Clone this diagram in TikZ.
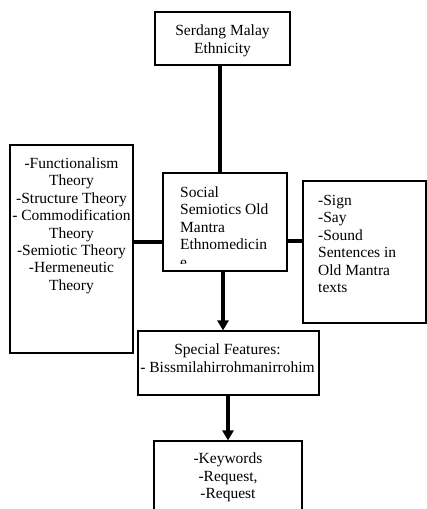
\documentclass[tikz,border=0pt]{standalone}
\usepackage{fontspec}
\setmainfont{Liberation Serif}
\usetikzlibrary{arrows.meta}
\begin{document}
\begin{tikzpicture}[x=1pt,y=-1pt,
  box/.style={draw=black,line width=1.1pt,inner sep=0pt,rectangle},
  txt/.style={inner sep=0pt,font=\fontsize{15.5}{17.4}\selectfont},
  conn/.style={line width=3.6pt,draw=black},
  arr/.style={line width=3.6pt,draw=black,-{Triangle[width=11pt,length=10pt]}}]
\useasboundingbox (0,0) rectangle (427,509);
\clip (0,0) rectangle (427,509);
\fill[white] (0,0) rectangle (427,509);
% boxes
\node[box,minimum width=135pt,minimum height=53pt] (top) at (222.5,38.5) {};
\node[box,minimum width=123pt,minimum height=208pt] (left) at (71.5,249) {};
\node[box,minimum width=124pt,minimum height=98pt] (mid) at (225,222) {};
\node[box,minimum width=123pt,minimum height=142pt] (right) at (364.5,252) {};
\node[box,minimum width=181pt,minimum height=64pt] (spec) at (228.5,363) {};
\node[box,minimum width=148pt,minimum height=90pt] (bot) at (228,486) {};
% texts
\node[txt,anchor=north,align=center] (toptxt) at (222.5,24.7) {Serdang Malay\\Ethnicity};
\node[txt,anchor=north,align=center] (lefttxt) at (71.5,157.5) {-Functionalism\\Theory\\-Structure Theory\\- Commodification\\Theory\\-Semiotic Theory\\-Hermeneutic\\Theory};
\begin{scope}
\clip (164,174) rectangle (286,263.5);
\node[txt,anchor=north west,align=left] (midtxt) at (180,186.5) {Social\\Semiotics Old\\Mantra\\Ethnomedicin\\e};
\end{scope}
\node[txt,anchor=north west,align=left] (righttxt) at (318,195) {-Sign\\-Say\\-Sound\\Sentences in\\Old Mantra\\texts};
\node[txt,anchor=north,align=center] (spectxt) at (227.5,344) {Special Features:\\- Bissmilahirrohmanirrohim};
\node[txt,anchor=north,align=center] (bottxt) at (228,453) {-Keywords\\-Request,\\-Request};
% connectors
\draw[conn] (220,0 |- top.south) -- (220,0 |- mid.north);
\draw[conn] (left.east |- 0,242) -- (mid.west |- 0,242);
\draw[conn] (mid.east |- 0,241) -- (right.west |- 0,241);
\draw[arr] (223,0 |- mid.south) -- (223,0 |- spec.north);
\draw[arr] (228,0 |- spec.south) -- (228,0 |- bot.north);
\end{tikzpicture}
\end{document}
